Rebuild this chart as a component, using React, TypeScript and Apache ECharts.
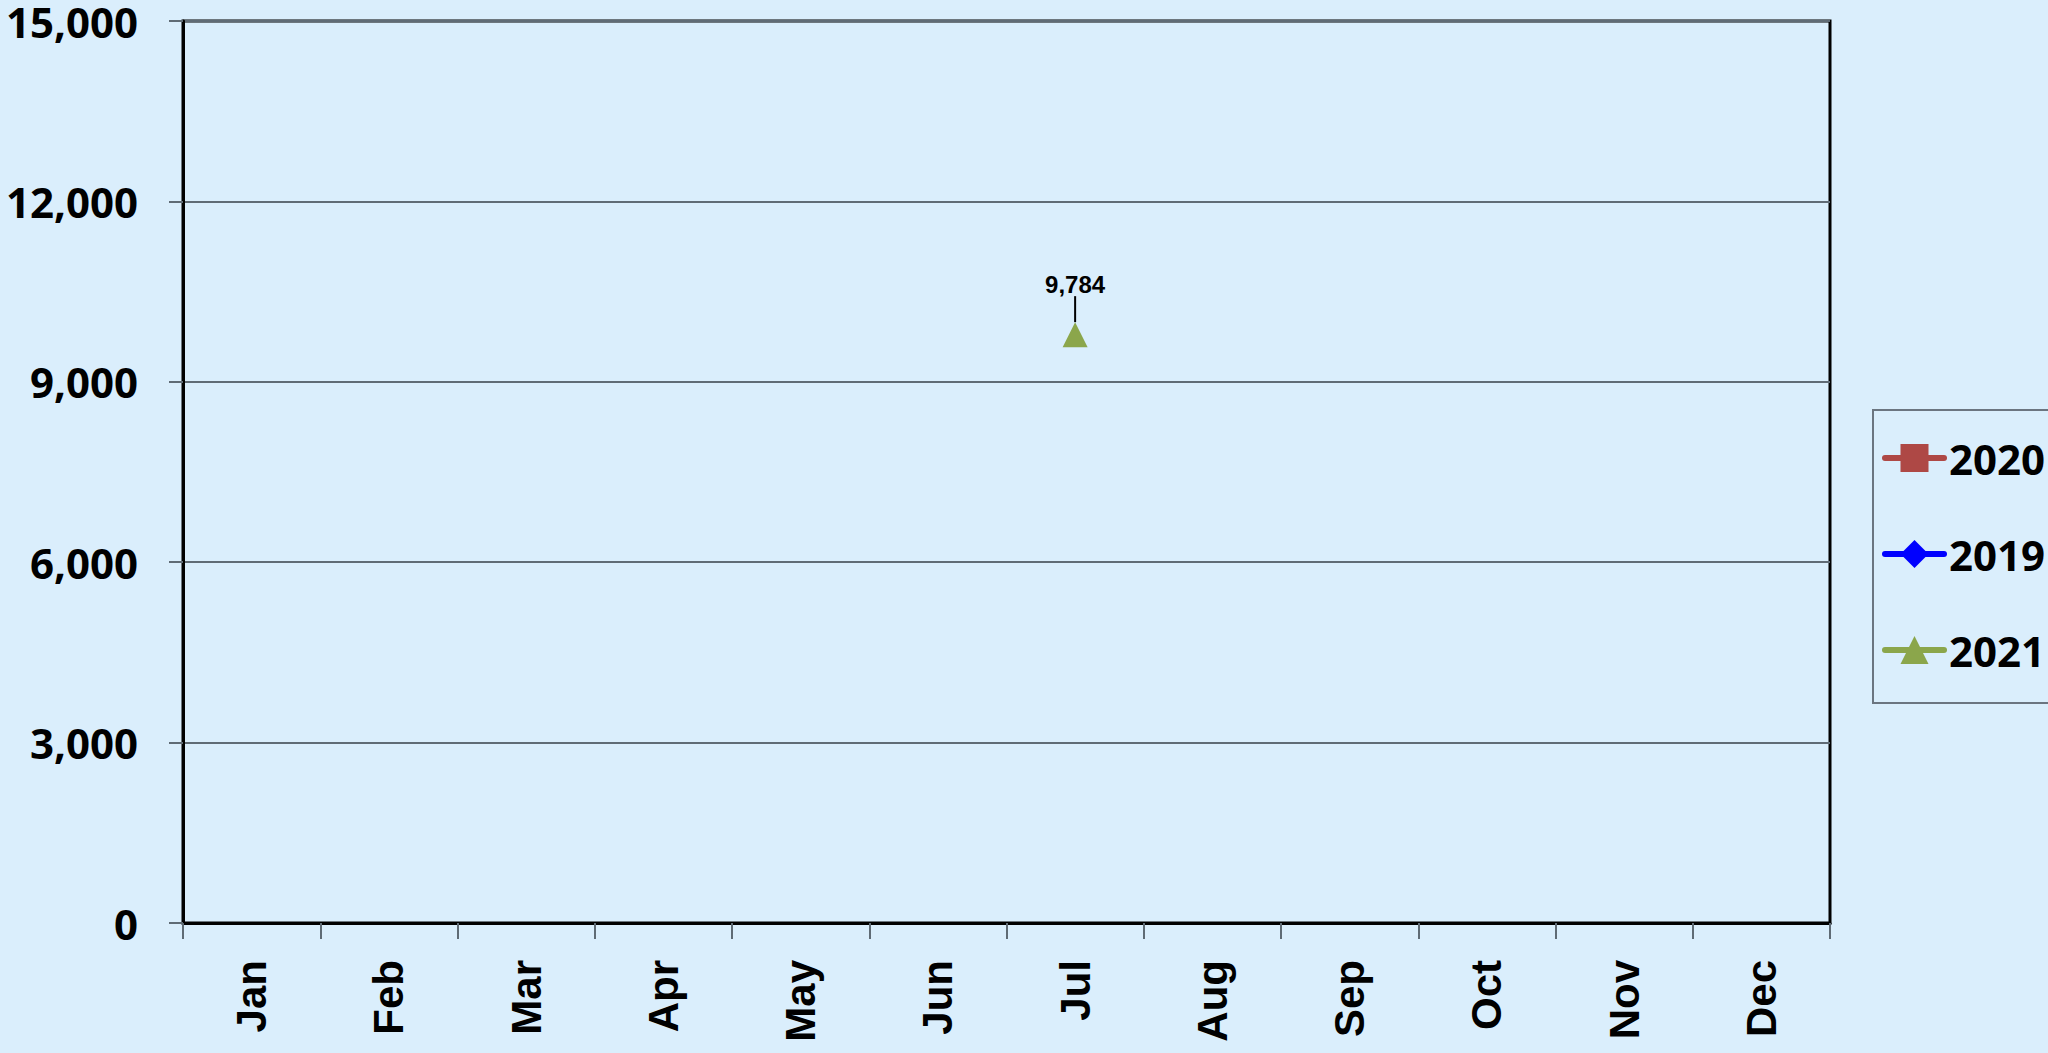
import React, { useEffect, useRef } from "react";
import * as echarts from "echarts";

const months = ["Jan", "Feb", "Mar", "Apr", "May", "Jun", "Jul", "Aug", "Sep", "Oct", "Nov", "Dec"];
const seriesNames = ["2020", "2019", "2021"];
const values2020: (number | null)[] = [null, null, null, null, null, null, null, null, null, null, null, null];
const values2019: (number | null)[] = [null, null, null, null, null, null, null, null, null, null, null, null];
const values2021: (number | null)[] = [null, null, null, null, null, null, 9784, null, null, null, null, null];
const yMin = 0;
const yMax = 15000;
const yInterval = 3000;

export default function App() {
  const ref = useRef<HTMLDivElement>(null);
  useEffect(() => {
    if (!ref.current) return;
    const chart = echarts.init(ref.current, undefined, { renderer: "svg" });
    const fmt = (v: number) => v.toLocaleString("en-US");
    chart.setOption({
      animation: false,
      backgroundColor: "#DAEEFC",
      grid: {
        left: 183,
        right: 218,
        top: 20,
        bottom: 130,
        show: true,
        borderColor: "#000",
        borderWidth: 3,
        backgroundColor: "transparent",
      },
      graphic: [
        {
          type: "rect",
          shape: { x: 1873, y: 410, width: 200, height: 293 },
          style: { fill: "transparent", stroke: "#6b7580", lineWidth: 2 },
          z: 1,
        },
      ],
      legend: {
        orient: "vertical",
        left: 1882,
        top: 437,
        itemWidth: 59,
        itemHeight: 35,
        itemGap: 54,
        padding: 0,
        lineStyle: { width: 6, cap: "round" },
        textStyle: { fontFamily: "Open Sans", fontWeight: "bold", fontSize: 42, color: "#000" },
        data: seriesNames,
      },
      xAxis: {
        type: "category",
        data: months,
        boundaryGap: true,
        axisLine: { show: true, lineStyle: { color: "#000", width: 3 } },
        axisTick: { show: true, length: 16, lineStyle: { color: "#5f6b75", width: 2 } },
        axisLabel: {
          rotate: 90,
          margin: 37,
          fontFamily: "Liberation Sans",
          fontWeight: "bold",
          fontSize: 42,
          color: "#000",
        },
        splitLine: { show: false },
      },
      yAxis: {
        type: "value",
        min: yMin,
        max: yMax,
        interval: yInterval,
        axisLine: { show: true, lineStyle: { color: "#000", width: 3 } },
        axisTick: { show: true, length: 14, lineStyle: { color: "#5f6b75", width: 2 } },
        axisLabel: {
          margin: 45,
          fontFamily: "Open Sans",
          fontWeight: "bold",
          fontSize: 42,
          lineHeight: 36,
          color: "#000",
          formatter: (v: number) => fmt(v),
        },
        splitLine: { show: true, lineStyle: { color: "#5f6b75", width: 2 } },
      },
      series: [
        {
          name: "2020",
          type: "line",
          data: values2020,
          symbol: "rect",
          symbolSize: 25,
          itemStyle: { color: "#AE4845" },
          lineStyle: { color: "#AE4845", width: 5 },
        },
        {
          name: "2019",
          type: "line",
          data: values2019,
          symbol: "diamond",
          symbolSize: 25,
          itemStyle: { color: "#0000FF" },
          lineStyle: { color: "#0000FF", width: 5 },
        },
        {
          name: "2021",
          type: "line",
          data: values2021,
          symbol: "triangle",
          symbolSize: 25,
          itemStyle: { color: "#8BA64B" },
          lineStyle: { color: "#8BA64B", width: 5 },
          label: {
            show: true,
            position: "top",
            distance: 4,
            fontFamily: "Liberation Sans",
            fontWeight: "bold",
            fontSize: 24,
            color: "#000",
            formatter: (p: any) => fmt(p.value),
          },
          labelLayout: { dy: -22 },
          labelLine: { show: true, lineStyle: { color: "#000", width: 2 } },
        },
      ],
    });
    return () => chart.dispose();
  }, []);
  return (
    <div
      ref={ref}
      style={{ position: "fixed", left: 0, top: 0, width: 2048, height: 1053 }}
    />
  );
}
